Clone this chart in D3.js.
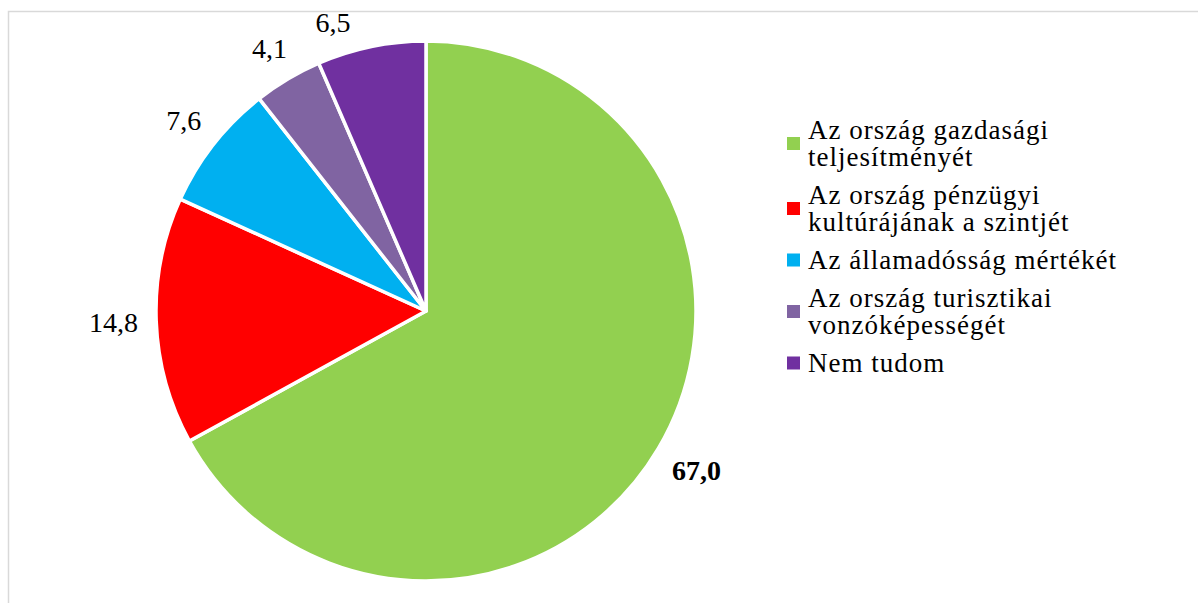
<!DOCTYPE html>
<html>
<head>
<meta charset="utf-8">
<script src="https://cdn.jsdelivr.net/npm/d3@7"></script>
<style>
  html, body { margin: 0; padding: 0; background: #ffffff; }
  svg { display: block; }
</style>
</head>
<body>
<svg id="chart" width="1198" height="603"></svg>
<script>
// ---- data ----
const categories = [
  "Az ország gazdasági teljesítményét",
  "Az ország pénzügyi kultúrájának a szintjét",
  "Az államadósság mértékét",
  "Az ország turisztikai vonzóképességét",
  "Nem tudom"
];
const legendLines = [
  ["Az ország gazdasági", "teljesítményét"],
  ["Az ország pénzügyi", "kultúrájának a szintjét"],
  ["Az államadósság mértékét"],
  ["Az ország turisztikai", "vonzóképességét"],
  ["Nem tudom"]
];
const values = [67.0, 14.8, 7.6, 4.1, 6.5];
const valueLabels = ["67,0", "14,8", "7,6", "4,1", "6,5"];
const boldLabel = [true, false, false, false, false];
const colors = ["#92D050", "#FF0000", "#00B0F0", "#8064A2", "#7030A0"];

// ---- layout ----
const svg = d3.select("#chart");
const W = 1198, H = 603;
const cx = 426, cy = 311, R = 270;
const borderTop = 11.5;
const serif = "'Liberation Serif', 'Times New Roman', serif";

// border
svg.append("rect")
  .attr("x", 8.5).attr("y", borderTop)
  .attr("width", W + 10).attr("height", H + 10)
  .attr("fill", "#ffffff")
  .attr("stroke", "#d9d9d9")
  .attr("stroke-width", 1.5);

const data = categories.map((c, i) => ({
  cat: c, value: values[i], label: valueLabels[i], bold: boldLabel[i], color: colors[i], lines: legendLines[i]
}));

const pie = d3.pie().sort(null).value(d => d.value).startAngle(0).endAngle(2 * Math.PI);
const arc = d3.arc().innerRadius(0).outerRadius(R);
const arcs = pie(data);

const g = svg.append("g").attr("transform", `translate(${cx},${cy})`);
g.selectAll("path.slice")
  .data(arcs)
  .join("path")
  .attr("class", "slice")
  .attr("d", arc)
  .attr("fill", d => d.data.color)
  .attr("stroke", "#ffffff")
  .attr("stroke-width", 3.5)
  .attr("stroke-linejoin", "round");

// value labels (outside end, kept inside the chart area by sliding along the circle)
const labelFont = 28;
const gap = 18;
const minTop = borderTop + 1 - cy; // in pie-centred coordinates
const lbl = g.selectAll("text.val")
  .data(arcs)
  .join("text")
  .attr("class", "val")
  .attr("font-family", serif)
  .attr("font-size", labelFont)
  .attr("font-weight", d => d.data.bold ? "bold" : "normal")
  .attr("fill", "#000000")
  .attr("text-anchor", "middle")
  .attr("dy", "0.34em")
  .text(d => d.data.label);

lbl.each(function(d) {
  const w = this.getComputedTextLength();
  const h = labelFont * 0.72;
  let a = (d.startAngle + d.endAngle) / 2;
  const pos = ang => {
    const s = Math.sin(ang), c = Math.cos(ang);
    const rc = R + gap + Math.abs(s) * w / 2 + Math.abs(c) * h / 2;
    return [s * rc, -c * rc];
  };
  let p = pos(a);
  let guard = 0;
  while (p[1] - h / 2 < minTop && guard < 400) {
    a += (a > Math.PI ? -1 : 1) * 0.002;
    p = pos(a);
    guard++;
  }
  d3.select(this).attr("x", p[0]).attr("y", p[1]);
});

// legend
const legFont = 27;
const lineStep = 27;
const entryGap = 11;
const legX = 787, textX = 808, firstBaseline = 138.5, mk = 13;
const leg = svg.append("g");
let b = firstBaseline;
data.forEach(d => {
  const n = d.lines.length;
  const first = b, last = b + (n - 1) * lineStep;
  const mid = (first + last) / 2 - 8.5;
  leg.append("rect")
    .attr("x", legX).attr("y", mid - mk / 2)
    .attr("width", mk).attr("height", mk)
    .attr("fill", d.color);
  d.lines.forEach((t, j) => {
    leg.append("text")
      .attr("x", textX).attr("y", first + j * lineStep)
      .attr("font-family", serif)
      .attr("font-size", legFont)
      .attr("letter-spacing", 1)
      .attr("fill", "#000000")
      .text(t);
  });
  b = last + lineStep + entryGap;
});
</script>
</body>
</html>
